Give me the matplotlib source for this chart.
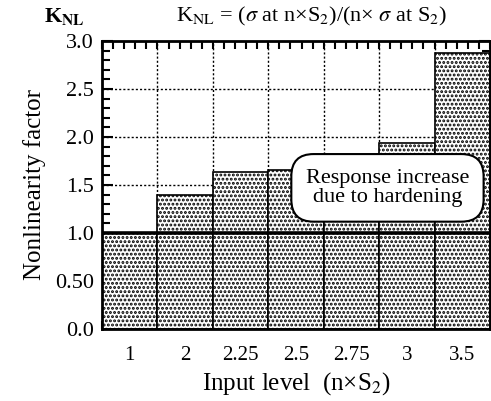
import numpy as np
import matplotlib
matplotlib.use('Agg')
import matplotlib.pyplot as plt
from matplotlib.ticker import MultipleLocator, FixedLocator

plt.rcParams['font.family'] = ['Liberation Serif', 'DejaVu Serif']
plt.rcParams['mathtext.fontset'] = 'stix'
plt.rcParams['hatch.linewidth'] = 1.4

levels = ['1', '2', '2.25', '2.5', '2.75', '3', '3.5']
knl = [1.0, 1.40, 1.64, 1.66, 1.76, 1.94, 2.875]
yticks = [0.0, 0.5, 1.0, 1.5, 2.0, 2.5, 3.0]
ylabels = ['0.0', '0.50', '1.0', '1.5', '2.0', '2.5', '3.0']

fig = plt.figure(figsize=(4.91, 4.01), dpi=100)
ax = fig.add_axes([0.2077, 0.1796, 0.9980 - 0.2077, 0.8978 - 0.1796])

x = np.arange(len(levels))
ax.bar(x, knl, width=1.0, color='white', edgecolor='black', hatch='....',
       linewidth=1.2, zorder=2)

# dotted grid
for yv in [0.5, 1.5, 2.0, 2.5]:
    ax.axhline(yv, color='black', ls=(0, (1.5, 1.5)), lw=1.0, zorder=1)
for xv in np.arange(0.5, 6.5, 1.0):
    ax.axvline(xv, color='black', ls=(0, (1.5, 1.5)), lw=1.0, zorder=1)
ax.axhline(1.0, color='black', lw=2.6, zorder=3)

ax.set_xlim(-0.5, 6.5)
ax.set_ylim(0, 3.0)
ax.set_xticks(x)
ax.set_xticklabels(levels, fontsize=15)
ax.set_yticks(yticks)
ax.set_yticklabels(ylabels, fontsize=16)
ax.yaxis.set_minor_locator(MultipleLocator(0.1))
ax.xaxis.set_minor_locator(FixedLocator(np.arange(-0.5, 6.51, 0.2)))
ax.tick_params(axis='x', which='major', length=0, pad=12)
ax.tick_params(axis='x', which='minor', direction='in', length=6, width=1.5,
               top=True, bottom=True)
ax.tick_params(axis='y', which='both', direction='in', length=6, width=1.5,
               left=True, right=True)
ax.tick_params(axis='y', which='major', length=8, pad=6)
for s in ax.spines.values():
    s.set_linewidth(2.0)

ax.set_xlabel('Input level\u2002(n\u00d7S$_2$)', fontsize=18, labelpad=4)
ax.set_ylabel('Nonlinearity factor', fontsize=18, labelpad=6)

fig.text(0.09, 0.96, 'K$_{\\mathbf{NL}}$', fontsize=16, fontweight='bold',
         ha='left', va='center')
fig.text(0.635, 0.96,
         'K$_{\\mathrm{NL}}$ = ($\\sigma$ at n\u00d7S$_2$)/(n\u00d7 $\\sigma$ at S$_2$)',
         fontsize=16, ha='center', va='center')

ax.text(4.65, 1.47, 'Response increase\ndue to hardening', fontsize=16,
        ha='center', va='center', linespacing=1.05, zorder=5,
        bbox=dict(boxstyle='round,pad=0.65,rounding_size=1.0', fc='white',
                  ec='black', lw=1.5))

fig.savefig('out.png', dpi=100)
